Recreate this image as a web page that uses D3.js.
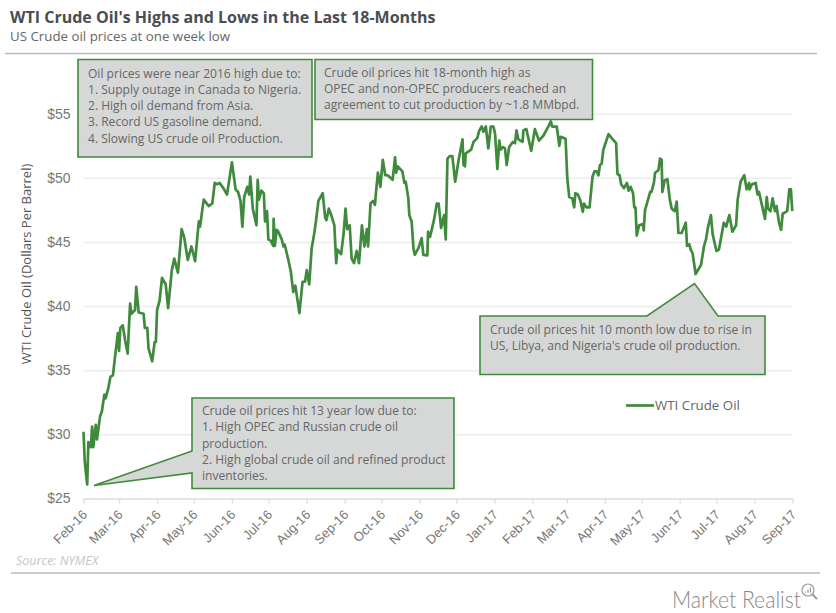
<!DOCTYPE html>
<html>
<head>
<meta charset="utf-8">
<script src="https://cdn.jsdelivr.net/npm/d3@7"></script>
<style>
	html, body { margin: 0; padding: 0; background: #fff; }
	svg { display: block; font-family: "Open Sans", sans-serif; }
	.grid line { stroke: #ececec; stroke-width: 1.5; }
	.grid path { display: none; }
	.y-axis path, .y-axis line { display: none; }
	.y-axis text { fill: #777; font-size: 14px; }
	.x-axis text { fill: #777; font-size: 13px; }
	.x-axis path, .x-axis line { stroke: #ddd; stroke-width: 1.3; }
	.note { fill: #d6d8d7; stroke: #3f8a3c; stroke-width: 1.6; }
	.note-text { fill: #666; font-size: 12.05px; }
</style>
</head>
<body>
<svg id="chart" width="836" height="613"></svg>
<script>
// days since 1 Feb 2016
const days = [0,1,3,4,6,7,8,10,11,13.5,15,17,18,20,22,24,26,28,29,30,32,34,36,38,39,42,43,45,49,50,52,53,56,58,59,60,62,64,67,69,72,74,77,80,82,85,88,91,94,95,98,102,105,107,109,111,114,117,121,124,126,128,129.5,131,133.5,135,136,138,141,142,143,145,147,148,149.6,150.7,152.6,154.7,155,156,157.5,158.8,161.6,163,164,167,169,171,172.7,176,178.6,180.6,182,184,186,188,189.5,191.5,195,197,198,200,202,204.5,206,207,210,212,213.6,215,217,218.6,220.5,222.7,224.6,227,229,231,232,234,236,237.6,238.4,240,242,244,246,248,252,254,254.9,256,260,261.6,262.7,264.8,265.6,267.5,269,270,273,275.7,277,280.3,280.9,282.5,285.7,288,289.5,291.5,294,295.3,296.7,298.8,300.7,303,306,309,309.8,311,311.6,316,318,321,322.7,324.6,326,328,330,332,334.2,335.5,337.4,339,340,342,343.6,345,347,350,351.8,353,354.5,358,358.6,361,365,368,371.3,375,378.9,381,382,385.8,387.9,389,393,394.4,396,398.5,400,401,403,405,407,408,410,412.5,415,416.5,418.4,419.8,421,422.4,423.8,428,430.6,434.2,435.3,437,438.3,440.6,443,444.4,446,448,449,450,451,453,456,456.7,457.8,459,462,463,465,466,468.7,470,471.3,471.9,473.8,476,478,479.5,482,483.6,485,487.6,491,492,494,495,496.6,499,503.4,505.9,507.5,509,511.5,512.9,516,518,522,524,526.5,529,532,533.3,535.7,538.7,540.6,542.6,543,545,548,549.5,550.7,553,555.6,557,558,560,561.8,563.7,565,567,568.7,570,573.7,575.4,576.7,577.8];
const prices = [30.2,27.9,26.1,29.4,29,30.6,29,30.75,29.6,31.4,31.8,33.1,32.8,33.5,34.5,34.6,36.3,37.9,36.5,38.3,38.5,37.3,36.3,40.2,39.4,39.7,41.5,39.5,39.4,38.3,38.3,36.7,35.7,37.2,37.2,39.7,40.4,42.2,41.7,39.85,42.8,43.7,42.6,46,45.4,43.6,44.65,43.5,46.6,46.2,48.3,47.8,48,49.6,49.5,49.6,49.2,48.7,51.2,49.1,48.9,48.2,46.2,48.5,49.3,48.7,50.1,47.6,46.3,49.85,48.3,49,48.8,46.6,47.4,45.2,45.1,44.7,46.8,44.7,45.95,45.8,45.2,44.65,44.8,43.6,42.7,41.1,41.6,39.45,41.9,41.9,42.8,41.7,44.5,45.6,46.6,48.2,48.8,46.9,46.7,47.6,47.1,46.3,43.35,44.4,44.05,45.6,47.6,46,46.3,43.7,43.35,44.3,43.35,46.3,44.65,46,44.65,48,48.2,47.9,48.8,50.4,49.3,51.4,50.2,50.2,49.85,51.6,50.4,50.9,50.5,49.6,49.7,48.4,47.1,46.6,44.5,44,44.5,45.3,44,43.95,45.8,45.4,46.7,48,48,46.1,47.1,45.2,51.5,51.7,51.7,49.7,51.5,53,51,50.9,51.9,52.2,52.8,53.1,53.7,54,53.6,54,52.3,54,54,53.45,50.7,52.9,52.2,52.4,52.3,51,52.4,52.8,52.7,53.7,53,52.8,53.7,53.8,52.1,53.8,52.9,53.3,54,54.4,54,54,52.5,53.2,53.05,49.95,48.5,48.4,47.7,48.8,48.7,48.25,47.35,48,47.7,47.7,50.1,50.5,50.5,50.2,51,51.1,52.2,53.4,53.1,52.7,50.3,50.2,49.5,49.2,49.6,49,49.3,48.8,47.7,47.7,45.5,46.3,46.4,45.9,47.5,47.9,48.9,48.9,49.6,50.4,50.6,51.5,51.4,48.9,49.8,49.9,48.3,47.6,47.4,48.15,45.7,45.7,46.5,44.7,44.8,44.4,44.1,42.5,43.2,44.7,45.2,46.1,47.1,45.6,44.3,44.4,46.5,46.2,47.1,45.8,46.3,48.3,49.7,50.2,49.1,49.6,49.1,49.5,49.6,48.7,48.9,47.9,46.8,48.5,47.6,47.4,48.4,47.4,47.8,46.5,45.95,47.2,47.4,49.1,49.1,47.4];
const priceTicks = [25, 30, 35, 40, 45, 50, 55];
const seriesName = 'WTI Crude Oil';
const titleText = "WTI Crude Oil's Highs and Lows in the Last 18-Months";
const subtitleText = 'US Crude oil prices at one week low';
const yTitleText = 'WTI Crude Oil (Dollars Per Barrel)';
const sourceText = 'Source: NYMEX';
const brandText = 'Market Realist';

const noteHigh2016 = ['Oil prices were near 2016 high due to:', '1. Supply outage in Canada to Nigeria.', '2. High oil demand from Asia.', '3. Record US gasoline demand.', '4. Slowing US crude oil Production.'];
const noteHigh18m = ['Crude oil prices hit 18-month high as', 'OPEC and non-OPEC producers reached an', 'agreement to cut production by ~1.8 MMbpd.'];
const noteLow10m = ['Crude oil prices hit 10 month low due to rise in', "US, Libya, and Nigeria's crude oil production."];
const noteLow13y = ['Crude oil prices hit 13 year low due to:', '1. High OPEC and Russian crude oil', 'production.', '2. High global crude oil and refined product', 'inventories.'];

const startTime = Date.UTC(2016, 1, 1);
const endTime = Date.UTC(2017, 8, 1);
const dayMs = 86400000;

const svg = d3.select('#chart');
const color = '#3f8a3c';

const x = d3.scaleUtc().domain([startTime, endTime]).range([83.5, 792.5]);
const y = d3.scaleLinear().domain([25, 55]).range([498.5, 113.7]);

// gridlines
svg.append('g')
	.attr('class', 'grid')
	.attr('transform', 'translate(83.5,0)')
	.call(d3.axisLeft(y).tickValues(priceTicks.slice(1)).tickSize(-709).tickFormat(''));

svg.append('g')
	.attr('class', 'y-axis')
	.attr('transform', 'translate(83.5,0)')
	.call(d3.axisLeft(y).tickValues(priceTicks).tickSize(0).tickPadding(13).tickFormat(d => '$' + d));

const xAxis = svg.append('g')
	.attr('class', 'x-axis')
	.attr('transform', 'translate(0,498.5)')
	.call(d3.axisBottom(x).ticks(d3.utcMonth.every(1)).tickSize(5).tickSizeOuter(0).tickFormat(d3.utcFormat('%b-%y')));

xAxis.selectAll('text')
	.attr('text-anchor', 'end')
	.attr('dx', 0)
	.attr('dy', 0)
	.attr('transform', 'translate(4,17) rotate(-45)')
	.attr('y', 0);

const line = d3.line()
	.x((d, i) => x(startTime + days[i] * dayMs))
	.y(d => y(d));

svg.append('path')
	.datum(prices)
	.attr('d', line)
	.attr('fill', 'none')
	.attr('stroke', color)
	.attr('stroke-width', 2.7)
	.attr('stroke-linejoin', 'round');

// callouts, outline in page pixels
function note(outline, lines, textX, firstBaseline) {
	svg.append('path')
		.attr('class', 'note')
		.attr('d', d3.line()(outline) + 'Z');
	svg.append('g')
		.selectAll('text')
		.data(lines)
		.join('text')
		.attr('class', 'note-text')
		.attr('x', textX)
		.attr('y', (d, i) => firstBaseline + i * 16.3)
		.text(d => d);
}

note([[78, 59.5], [312, 59.5], [312, 157], [78, 157]], noteHigh2016, 88, 77.5);
note([[315, 59.5], [592.5, 59.5], [592.5, 119.5], [315, 119.5]], noteHigh18m, 324, 76.5);
note([[480, 316], [647, 316], [694.5, 283.5], [718, 316], [765, 316], [765, 374.5], [480, 374.5]], noteLow10m, 490, 333.5);
note([[192, 398], [454, 398], [454, 488.5], [192, 488.5], [192, 473], [94, 485.5], [192, 451]], noteLow13y, 202, 415);

// legend
svg.append('line')
	.attr('x1', 626).attr('x2', 654).attr('y1', 405.5).attr('y2', 405.5)
	.attr('stroke', color).attr('stroke-width', 2.7);
svg.append('text')
	.attr('x', 655).attr('y', 409.5)
	.attr('fill', '#666').attr('font-size', 13.3)
	.text(seriesName);

// header and footer
svg.append('text')
	.attr('x', 10).attr('y', 22.5)
	.attr('fill', '#4a4d52').attr('font-size', 16).attr('font-weight', 700)
	.text(titleText);
svg.append('text')
	.attr('x', 10).attr('y', 41)
	.attr('fill', '#666').attr('font-size', 13.3)
	.text(subtitleText);
svg.append('line')
	.attr('x1', 5).attr('x2', 817).attr('y1', 53.5).attr('y2', 53.5)
	.attr('stroke', '#bbb').attr('stroke-width', 1.3);
svg.append('text')
	.attr('transform', 'translate(31,264) rotate(-90)')
	.attr('text-anchor', 'middle')
	.attr('fill', '#555').attr('font-size', 13)
	.text(yTitleText);
svg.append('text')
	.attr('x', 16).attr('y', 565)
	.attr('fill', '#c6c6c6').attr('font-size', 12.5).attr('font-style', 'italic')
	.text(sourceText);
svg.append('line')
	.attr('x1', 11).attr('x2', 820).attr('y1', 573).attr('y2', 573)
	.attr('stroke', '#bbb').attr('stroke-width', 1.3);
svg.append('text')
	.attr('x', 672).attr('y', 608)
	.attr('fill', '#888').attr('font-size', 24).attr('font-family', 'Lato').attr('font-weight', 300)
	.attr('textLength', 129).attr('lengthAdjust', 'spacingAndGlyphs')
	.text(brandText);

// magnifier next to the brand name
const glass = svg.append('g').attr('fill', 'none').attr('stroke', '#999').attr('stroke-width', 1.2);
glass.append('circle').attr('cx', 808).attr('cy', 590).attr('r', 6);
glass.append('line').attr('x1', 812.5).attr('y1', 594.5).attr('x2', 817).attr('y2', 599).attr('stroke-width', 1.8);
glass.append('path').attr('d', 'M805.5 592.5v-1M808 592.5v-3M810.5 592.5v-5');
</script>
</body>
</html>
